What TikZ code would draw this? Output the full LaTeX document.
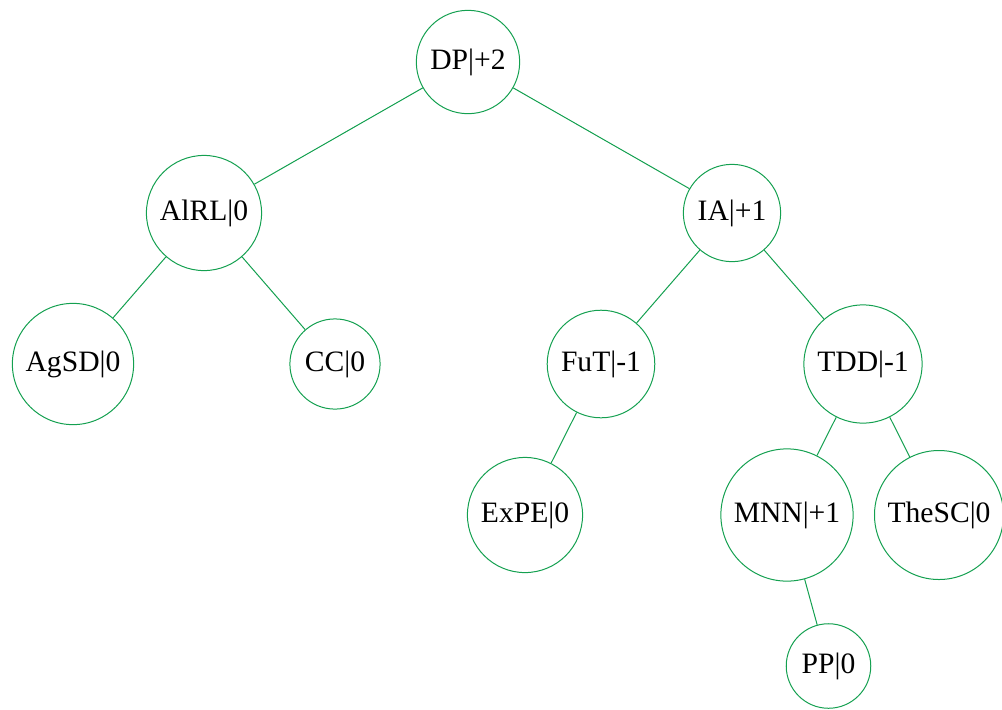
\documentclass[tikz,border=0pt]{standalone}
\usepackage{fontspec}
\setmainfont{Liberation Serif}
\definecolor{treegreen}{RGB}{20,160,80}

\begin{document}
\begin{tikzpicture}[level distance=75.5pt]
  \tikzstyle{avl}=[circle,draw=treegreen,line width=0.5pt,inner sep=4.5pt,font=\fontsize{14.8}{17}\selectfont]
  \tikzstyle{every node}=[avl]
  \tikzstyle{edge from parent}=[draw=treegreen,line width=0.5pt]
  \tikzstyle{level 1}=[sibling distance=264pt]
  \tikzstyle{level 2}=[sibling distance=131pt]
  \tikzstyle{level 3}=[sibling distance=76pt]
  \tikzstyle{level 4}=[sibling distance=41.5pt]
  \useasboundingbox (-234pt,31pt) rectangle (267pt,-323.5pt);
  \node (dp) {DP|+2}
    child {node (alrl) {AlRL|0}
      child {node (agsd) {AgSD|0}}
      child {node (cc) {CC|0}}}
    child {node (ia) {IA|+1}
      child {node (fut) {FuT|-1}
        child {node (expe) {ExPE|0}}
        child[missing]}
      child {node (tdd) {TDD|-1}
        child {node (mnn) {MNN|+1}
          child[missing]
          child {node (pp) {PP|0}}}
        child {node (thesc) {TheSC|0}}}}
  ;\end{tikzpicture}
\end{document}
